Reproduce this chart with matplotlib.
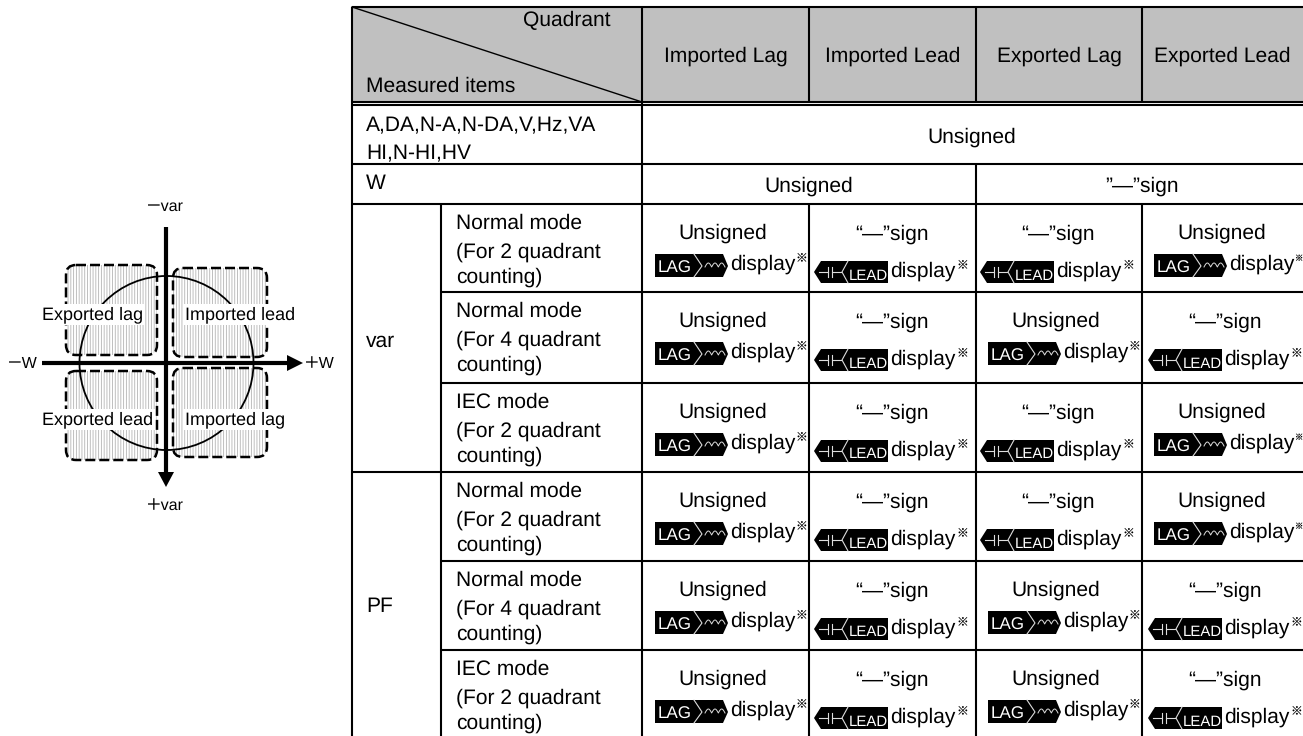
import numpy as np
import matplotlib
matplotlib.use("Agg")
import matplotlib.pyplot as plt
from matplotlib.patches import Circle, FancyBboxPatch, Polygon, Rectangle

plt.rcParams["font.family"] = ["Liberation Sans", "Noto Sans CJK JP", "DejaVu Sans"]
plt.rcParams["hatch.linewidth"] = 0.6
plt.rcParams["hatch.color"] = "#b4b4b4"
plt.rcParams["text.hinting"] = "no_hinting"
plt.rcParams["text.hinting_factor"] = 1

# ── table content ─────────────────────────────────────────────────────────────
quadrants = ["Imported Lag", "Imported Lead", "Exported Lag", "Exported Lead"]
mode_lines = [
    ["Normal mode", "(For 2 quadrant", "counting)"],
    ["Normal mode", "(For 4 quadrant", "counting)"],
    ["IEC mode", "(For 2 quadrant", "counting)"],
]
group_labels = ["var", "PF"]
# 0 = Unsigned + LAG badge, 1 = "-" sign + LEAD badge
var_cells = [[0, 1, 1, 0], [0, 1, 0, 1], [0, 1, 1, 0]]
pf_cells = [[0, 1, 1, 0], [0, 1, 0, 1], [0, 1, 0, 1]]

quadrant_boxes = ["Exported lag", "Imported lead", "Exported lead", "Imported lag"]

# ── pixel grid of the table ───────────────────────────────────────────────────
W, H = 1303, 736
LEFT, COL_B = 352, 441
COLS = [642, 809, 976, 1142, 1303]
TOP, HEAD1, HEAD2, ROW_A, ROW_W = 7, 102, 105, 164, 204
ROWS = [204, 292, 383, 472, 561, 650]
# per column anchors: cell text centres and badge left edges
UNSIGNED_CX = [723, 892, 1056, 1222]
SIGN_CX = [723, 892, 1058, 1225]
LAG_X = [655, 822, 988, 1154]
LEAD_X = [648, 814, 980, 1148]

FS = 15.2
LW = 1.5
fig = plt.figure(figsize=(W / 100, H / 100), dpi=100)
ax = fig.add_axes([0, 0, 1, 1])
ax.set_xlim(0, W)
ax.set_ylim(H, 0)
ax.axis("off")


def txt(x, y, s, ha="left", fs=FS, **kw):
    return ax.text(x, y, s, ha=ha, va="baseline", fontsize=fs, color="black", **kw)


def hline(y, x0, x1=W, lw=LW):
    ax.plot([x0, x1], [y, y], color="black", lw=lw, solid_capstyle="butt", zorder=3)


def vline(x, y0, y1, lw=LW):
    ax.plot([x, x], [y0, y1], color="black", lw=lw, solid_capstyle="butt", zorder=3)


def note_mark(x, base):
    # last column runs into the picture edge, so the mark gets smaller there
    if x + 12 > W:
        txt(W - 9, base - 9, "※", fs=6)
    else:
        txt(x, base - 8.5, "※", fs=8.5)


def lag_badge(x, base):
    top = base - 16
    bot = base + 7
    ax.add_patch(Polygon([(x, top), (x + 68, top), (x + 73, top + 12), (x + 68, bot), (x, bot)],
                         fc="black", ec="none", zorder=4))
    ax.text(x + 20, base + 3, "LAG", color="white", fontsize=12.5, ha="center", va="baseline", zorder=5)
    ax.plot([x + 39, x + 47, x + 39], [top, top + 12, bot], color="#dddddd", lw=0.8, zorder=5)
    wx = np.linspace(0, 1, 40)
    ax.plot(x + 50 + wx * 20, top + 13 - 4 * np.abs(np.sin(wx * 3 * np.pi)), color="#dddddd", lw=0.7, zorder=5)
    txt(x + 75, base, "display")
    note_mark(x + 141, base)


def lead_badge(x, base):
    top = base - 16
    bot = base + 6
    ax.add_patch(Polygon([(x, top + 11), (x + 7, top), (x + 74, top), (x + 74, bot), (x + 7, bot)],
                         fc="black", ec="none", zorder=4))
    ym = top + 11
    ax.plot([x + 5, x + 14], [ym, ym], color="#dddddd", lw=0.8, zorder=5)
    ax.plot([x + 18, x + 27], [ym, ym], color="#dddddd", lw=0.8, zorder=5)
    ax.plot([x + 14, x + 14], [ym - 5, ym + 5], color="#dddddd", lw=0.8, zorder=5)
    ax.plot([x + 18, x + 18], [ym - 5, ym + 5], color="#dddddd", lw=0.8, zorder=5)
    ax.plot([x + 34, x + 28, x + 34], [top, ym, bot], color="#dddddd", lw=0.8, zorder=5)
    ax.text(x + 54, base + 2.5, "LEAD", color="white", fontsize=10.8, ha="center", va="baseline", zorder=5)
    txt(x + 76, base, "display")
    note_mark(x + 143, base)


# ── table: header ─────────────────────────────────────────────────────────────
ax.add_patch(Rectangle((LEFT, TOP), W - LEFT, HEAD1 - TOP, fc="#c0c0c0", ec="none", zorder=1))
ax.plot([LEFT, COLS[0]], [TOP, HEAD1], color="black", lw=1.0, zorder=3)
txt(523, 26, "Quadrant")
txt(366, 92, "Measured items")
for i, q in enumerate(quadrants):
    txt((COLS[i] + COLS[i + 1]) / 2, 62, q, ha="center")

# ── table: rules ──────────────────────────────────────────────────────────────
hline(TOP, LEFT)
hline(HEAD1, LEFT)
hline(HEAD2, LEFT)
hline(ROW_A, LEFT)
hline(ROW_W, LEFT)
for y in ROWS[1:]:
    hline(y, LEFT if y == 472 else COL_B)
vline(LEFT, TOP, H)
vline(COL_B, ROW_W, H)
vline(COLS[0], TOP, H)
vline(COLS[1], TOP, HEAD1)
vline(COLS[1], ROW_W, H)
vline(COLS[2], TOP, HEAD1)
vline(COLS[2], ROW_A, H)
vline(COLS[3], TOP, HEAD1)
vline(COLS[3], ROW_W, H)

# ── table: simple rows ────────────────────────────────────────────────────────
txt(366, 131, "A,DA,N-A,N-DA,V,Hz,VA")
txt(366, 159, "HI,N-HI,HV")
txt(366, 189, "W")
txt(972, 143, "Unsigned", ha="center")
txt(809, 192, "Unsigned", ha="center")
txt(1142, 192, "”—”sign", ha="center")
txt(366, 347, group_labels[0])
txt(366, 612, group_labels[1])

# ── table: mode rows ──────────────────────────────────────────────────────────
for r, row in enumerate(var_cells + pf_cells):
    y0 = ROWS[r]
    for line, off in zip(mode_lines[r % 3], (25, 54, 79)):
        txt(456, y0 + off, line)
    for c, kind in enumerate(row):
        if kind == 0:
            txt(UNSIGNED_CX[c], y0 + 35, "Unsigned", ha="center")
            lag_badge(LAG_X[c], y0 + 66)
        else:
            txt(SIGN_CX[c], y0 + 36, "“—”sign", ha="center")
            lead_badge(LEAD_X[c], y0 + 73)

# ── quadrant diagram ──────────────────────────────────────────────────────────
boxes = [(66, 265, 91, 90), (173, 268, 94, 89), (66, 371, 91, 89), (173, 368, 94, 89)]
for (x, y, w, h) in boxes:
    ax.add_patch(FancyBboxPatch((x + 9, y + 9), w - 18, h - 18, boxstyle="round,pad=9,rounding_size=10",
                                fc="white", ec="#b4b4b4", lw=0, hatch="||||||", zorder=1))
ax.add_patch(Circle((166.5, 363), 87, fc="none", ec="black", lw=1.3, zorder=2))
for (x, y, w, h) in boxes:
    ax.add_patch(FancyBboxPatch((x + 9, y + 9), w - 18, h - 18, boxstyle="round,pad=9,rounding_size=10",
                                fc="none", ec="black", lw=1.8, ls=(0, (4.0, 1.6)), zorder=3))
label_pos = [(42, 319), (185, 319), (42, 424), (185, 424)]
for (x, y), s in zip(label_pos, quadrant_boxes):
    ax.text(x, y, s, fontsize=13.3, color="black", va="baseline", zorder=3.5,
            bbox=dict(fc="white", ec="none", pad=1.5))
ax.plot([42, 290], [363, 363], color="black", lw=3, solid_capstyle="butt", zorder=4)
ax.plot([166, 166], [227, 475], color="black", lw=3, solid_capstyle="butt", zorder=4)
ax.add_patch(Polygon([(287, 355), (303, 363), (287, 371)], fc="black", ec="none", zorder=4))
ax.add_patch(Polygon([(158, 472), (174, 472), (166, 487)], fc="black", ec="none", zorder=4))
txt(165, 211, "－var", ha="center", fs=11.3)
txt(165, 510, "＋var", ha="center", fs=11.3)
txt(7, 368, "－W", fs=11.3)
txt(304, 368, "＋W", fs=11.3)

fig.savefig("out.png", dpi=100)
